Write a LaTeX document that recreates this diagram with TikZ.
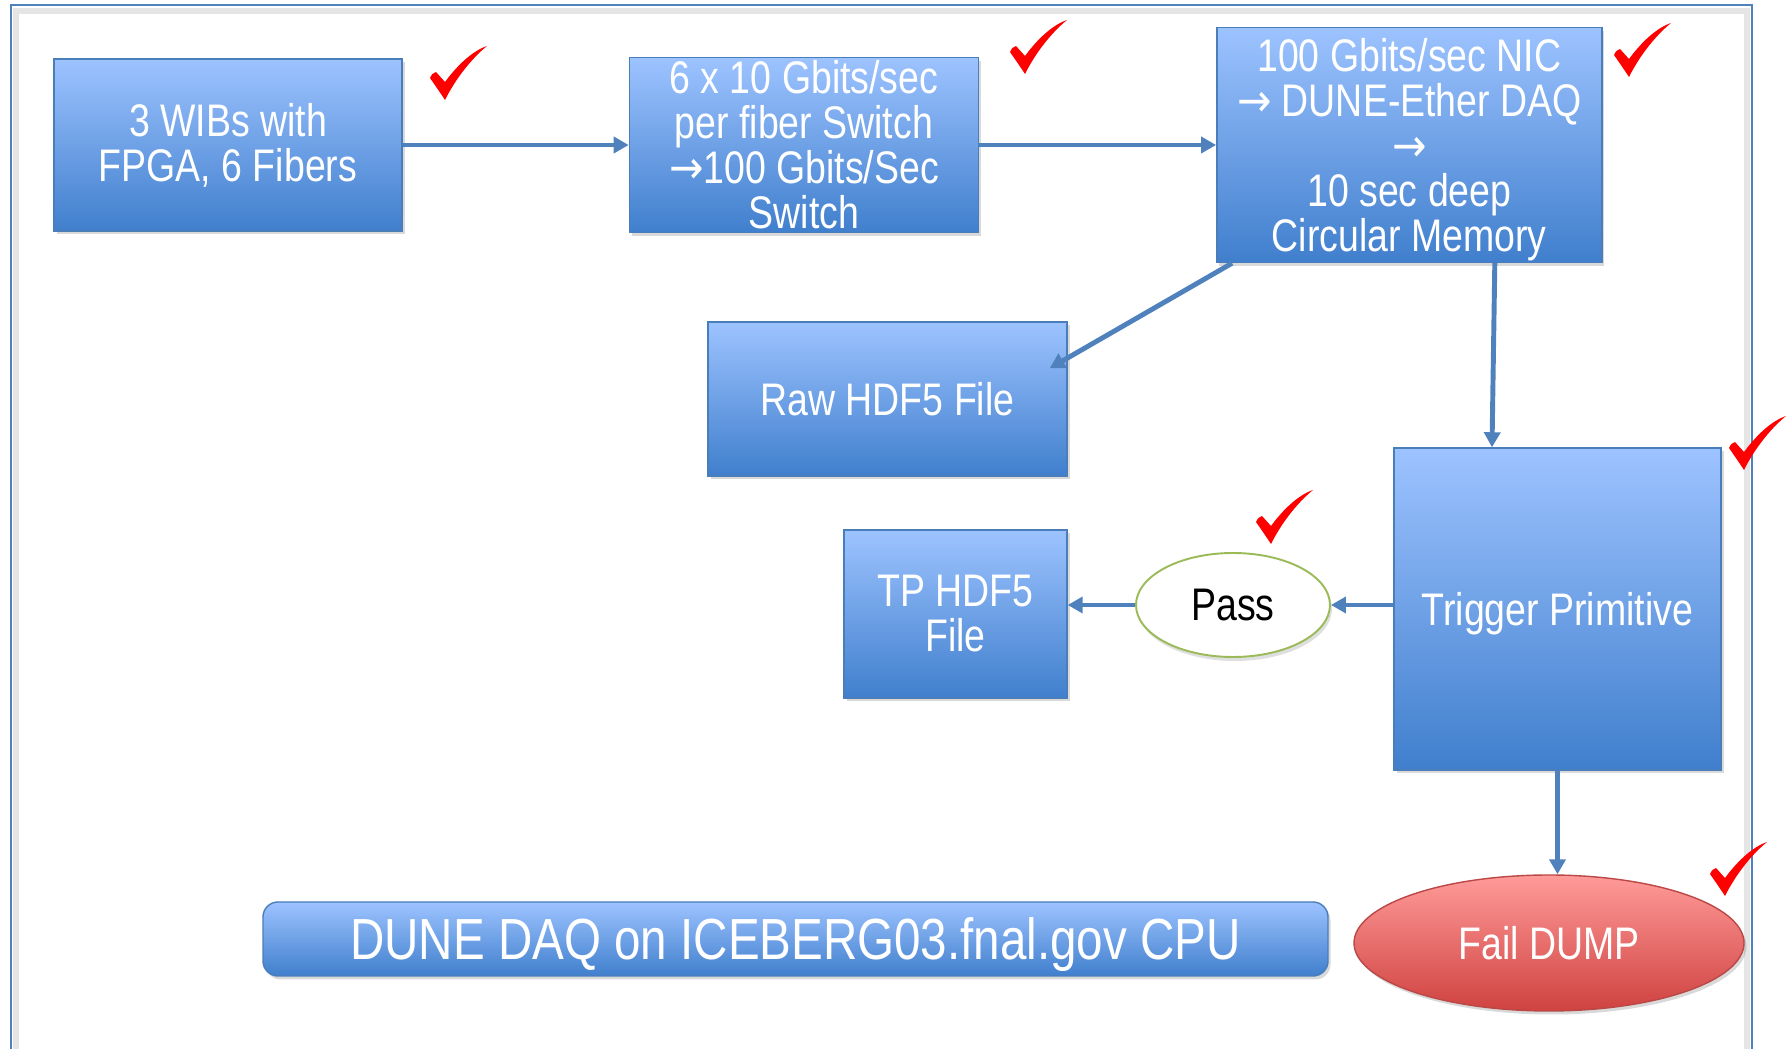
\documentclass[tikz,border=0pt]{standalone}
\usepackage{fontspec}
\setmainfont{Liberation Sans}[FakeStretch=0.82]
\newfontfamily\arrowfont{DejaVu Sans}[FakeStretch=0.9]
\usetikzlibrary{arrows.meta, positioning, shapes.geometric, shadows}
\definecolor{boxtop}{RGB}{157,195,255}
\definecolor{boxbot}{RGB}{64,127,205}
\definecolor{boxline}{RGB}{74,126,187}
\definecolor{flowblue}{RGB}{79,129,189}
\definecolor{failtop}{RGB}{255,155,153}
\definecolor{failbot}{RGB}{207,66,64}
\definecolor{failline}{RGB}{186,72,70}
\definecolor{passline}{RGB}{155,187,89}
\definecolor{tickred}{RGB}{255,0,0}
\newcommand{\fwd}{{\arrowfont →}}

\begin{document}
\begin{tikzpicture}[
    blk/.style={draw=boxline, line width=0.8pt, top color=boxtop, bottom color=boxbot,
                text=white, align=center, inner sep=0pt, font=\fontsize{26}{25.6}\selectfont,
                drop shadow={shadow xshift=0.05cm, shadow yshift=-0.07cm, opacity=0.3}},
    flow/.style={draw=flowblue, line width=2.8pt, -{Triangle[length=0.3cm, width=0.32cm]}},
    redtick/.pic={\fill[tickred] (0,0.44) .. controls (0.04,0.52) .. (0.12,0.56) -- (0.3,0.36)
                  .. controls (0.55,0.7) and (0.85,0.98) .. (1.14,1.08)
                  .. controls (0.8,0.8) and (0.5,0.4) .. (0.3,0)
                  .. controls (0.18,0.18) .. (0,0.44) -- cycle;}
]
    \useasboundingbox (0,0) rectangle (35.72,20.98);

    % Slide frame (open at the bottom)
    \draw[black!10, line width=0.12cm] (0.32,0) -- (0.32,20.76) -- (34.94,20.76) -- (34.94,0);
    \draw[flowblue, line width=0.05cm] (0.22,0) -- (0.22,20.88) -- (35.04,20.88) -- (35.04,0);

    % Top row: readout chain
    \node[blk, minimum width=6.96cm, minimum height=3.44cm] (wib) at (4.56,18.08) {3 WIBs with\\FPGA, 6 Fibers};
    \node[blk, minimum width=6.98cm, minimum height=3.5cm, right=4.52cm of wib] (switch) {6 x 10 Gbits/sec\\per fiber Switch\\\fwd100 Gbits/Sec\\Switch};
    \node[blk, minimum width=7.7cm, minimum height=4.7cm, text depth=0pt, right=4.74cm of switch] (nic) {100 Gbits/sec NIC\\\fwd{} DUNE-Ether DAQ\\\fwd\\10 sec deep\\Circular Memory};
    \draw[flow] (wib.east) -- (switch.west);
    \draw[flow] (switch.east) -- (nic.west);

    % Outputs of the circular memory
    \node[blk, minimum width=7.18cm, minimum height=3.08cm] (raw) at (17.75,13.0) {Raw HDF5 File};
    \node[blk, minimum width=6.54cm, minimum height=6.44cm, text depth=0pt] (trig) at (31.15,8.8) {Trigger Primitive};
    \draw[flow] ([xshift=0.32cm]nic.south west) -- ([xshift=-0.36cm,yshift=-0.94cm]raw.north east);
    \draw[flow] ([xshift=1.71cm]nic.south) -- ([xshift=-1.31cm]trig.north);

    % Trigger decision
    \node[ellipse, draw=passline, line width=1.1pt, fill=white, minimum width=3.88cm, minimum height=2.08cm,
          inner sep=0pt, font=\fontsize{26}{25.6}\selectfont,
          drop shadow={shadow xshift=0.04cm, shadow yshift=-0.08cm, opacity=0.25}] (pass) at (24.66,8.88) {Pass};
    \node[blk, minimum width=4.46cm, minimum height=3.36cm] (tphdf) at (19.11,8.7) {TP HDF5\\File};
    \node[blk, ellipse, draw=failline, top color=failtop, bottom color=failbot,
          minimum width=7.8cm, minimum height=2.72cm] (fail) at (30.98,2.12) {Fail DUMP};
    \draw[flow] (pass.east -| trig.west) -- (pass.east);
    \draw[flow] (pass.west) -- (pass.west -| tphdf.east);
    \draw[flow] (trig.south) -- (trig.south |- fail.north);

    % Host banner
    \node[blk, rounded corners=0.3cm, minimum width=21.3cm, minimum height=1.48cm,
          text height=0.83cm, text depth=0pt,
          font=\fontsize{33}{33}\selectfont] (host) at (15.91,2.2) {DUNE DAQ on ICEBERG03.fnal.gov CPU};

    % Check marks
    \pic at (8.6,18.98) {redtick};
    \pic at (20.2,19.5) {redtick};
    \pic at (32.28,19.44) {redtick};
    \pic at (25.12,10.1) {redtick};
    \pic at (34.58,11.58) {redtick};
    \pic at (34.2,3.06) {redtick};
\end{tikzpicture}
\end{document}
